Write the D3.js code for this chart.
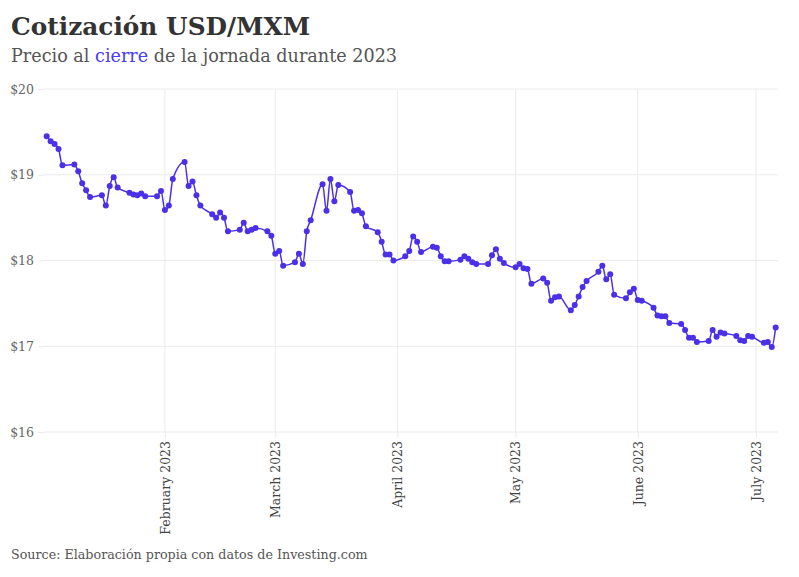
<!DOCTYPE html>
<html>
<head>
<meta charset="utf-8">
<script src="https://cdn.jsdelivr.net/npm/d3@7"></script>
<style>
  html, body { margin: 0; padding: 0; background: #fff; }
  svg { display: block; font-family: "DejaVu Serif", serif; }
</style>
</head>
<body>
<svg id="chart" width="799" height="577"></svg>
<script>
const dates = [
  "2023-01-02","2023-01-03","2023-01-04","2023-01-05","2023-01-06",
  "2023-01-09","2023-01-10","2023-01-11","2023-01-12","2023-01-13",
  "2023-01-16","2023-01-17","2023-01-18","2023-01-19","2023-01-20",
  "2023-01-23","2023-01-24","2023-01-25","2023-01-26","2023-01-27",
  "2023-01-30","2023-01-31","2023-02-01","2023-02-02","2023-02-03",
  "2023-02-06","2023-02-07","2023-02-08","2023-02-09","2023-02-10",
  "2023-02-13","2023-02-14","2023-02-15","2023-02-16","2023-02-17",
  "2023-02-20","2023-02-21","2023-02-22","2023-02-23","2023-02-24",
  "2023-02-27","2023-02-28","2023-03-01","2023-03-02","2023-03-03",
  "2023-03-06","2023-03-07","2023-03-08","2023-03-09","2023-03-10",
  "2023-03-13","2023-03-14","2023-03-15","2023-03-16","2023-03-17",
  "2023-03-20","2023-03-21","2023-03-22","2023-03-23","2023-03-24",
  "2023-03-27","2023-03-28","2023-03-29","2023-03-30","2023-03-31",
  "2023-04-03","2023-04-04","2023-04-05","2023-04-06","2023-04-07",
  "2023-04-10","2023-04-11","2023-04-12","2023-04-13","2023-04-14",
  "2023-04-17","2023-04-18","2023-04-19","2023-04-20","2023-04-21",
  "2023-04-24","2023-04-25","2023-04-26","2023-04-27","2023-04-28",
  "2023-05-01","2023-05-02","2023-05-03","2023-05-04","2023-05-05",
  "2023-05-08","2023-05-09","2023-05-10","2023-05-11","2023-05-12",
  "2023-05-15","2023-05-16","2023-05-17","2023-05-18","2023-05-19",
  "2023-05-22","2023-05-23","2023-05-24","2023-05-25","2023-05-26",
  "2023-05-29","2023-05-30","2023-05-31","2023-06-01","2023-06-02",
  "2023-06-05","2023-06-06","2023-06-07","2023-06-08","2023-06-09",
  "2023-06-12","2023-06-13","2023-06-14","2023-06-15","2023-06-16",
  "2023-06-19","2023-06-20","2023-06-21","2023-06-22","2023-06-23",
  "2023-06-26","2023-06-27","2023-06-28","2023-06-29","2023-06-30",
  "2023-07-03","2023-07-04","2023-07-05","2023-07-06"
];
const closes = [
  19.45,19.39,19.36,19.30,19.11,
  19.12,19.04,18.90,18.82,18.74,
  18.76,18.64,18.87,18.97,18.85,
  18.79,18.77,18.76,18.78,18.75,
  18.75,18.81,18.59,18.64,18.95,
  19.15,18.87,18.92,18.76,18.64,
  18.54,18.50,18.56,18.50,18.34,
  18.36,18.44,18.34,18.36,18.38,
  18.34,18.29,18.08,18.11,17.94,
  17.98,18.08,17.96,18.34,18.47,
  18.89,18.58,18.95,18.69,18.88,
  18.80,18.58,18.59,18.55,18.40,
  18.33,18.22,18.07,18.07,18.00,
  18.05,18.11,18.28,18.22,18.10,
  18.16,18.15,18.05,17.99,17.99,
  18.01,18.05,18.02,17.98,17.96,
  17.96,18.06,18.13,18.02,17.97,
  17.92,17.96,17.91,17.90,17.73,
  17.79,17.74,17.53,17.57,17.58,
  17.42,17.48,17.58,17.69,17.76,
  17.87,17.94,17.78,17.84,17.60,
  17.56,17.63,17.67,17.54,17.53,
  17.45,17.36,17.35,17.35,17.27,
  17.26,17.19,17.10,17.10,17.05,
  17.06,17.19,17.11,17.16,17.15,
  17.12,17.07,17.06,17.12,17.11,
  17.04,17.05,16.99,17.22
];
const yTicks = [16, 17, 18, 19, 20];
const xTickDates = ["2023-02-01","2023-03-01","2023-04-01","2023-05-01","2023-06-01","2023-07-01"];
const xTickLabels = ["February 2023","March 2023","April 2023","May 2023","June 2023","July 2023"];

const parse = d3.timeParse("%Y-%m-%d");
const data = dates.map((d, i) => ({ date: parse(d), value: closes[i] }));

const svg = d3.select("#chart");
const plot = { left: 44, right: 778, top: 89, bottom: 432 };

const x = d3.scaleTime()
  .domain(d3.extent(data, d => d.date))
  .range([plot.left + 2.7, plot.right - 2.3]);
const y = d3.scaleLinear().domain([16, 20]).range([plot.bottom, plot.top]);

const gridColor = "#ebebeb";
const lineColor = "#4a30e6";

// horizontal grid + y axis
const yAxis = d3.axisLeft(y).tickValues(yTicks).tickFormat(d => "$" + d).tickSize(6).tickPadding(4);
const gy = svg.append("g").attr("transform", `translate(${plot.left},0)`).call(yAxis);
gy.select(".domain").remove();
gy.selectAll(".tick line").attr("stroke", gridColor);
gy.selectAll(".tick text").attr("fill", "#666").style("font-size", "12.5px").style("font-family", "DejaVu Serif");
svg.append("g").selectAll("line").data(yTicks).join("line")
  .attr("x1", plot.left).attr("x2", plot.right)
  .attr("y1", d => y(d)).attr("y2", d => y(d))
  .attr("stroke", gridColor).attr("stroke-width", 1);

// vertical grid + x axis
const xAxis = d3.axisBottom(x).tickValues(xTickDates.map(parse))
  .tickFormat((d, i) => xTickLabels[i]).tickSize(6).tickPadding(4);
const gx = svg.append("g").attr("transform", `translate(0,${plot.bottom})`).call(xAxis);
gx.select(".domain").remove();
gx.selectAll(".tick line").attr("stroke", gridColor);
gx.selectAll(".tick text")
  .attr("fill", "#444")
  .style("font-size", "12.5px").style("font-family", "DejaVu Serif")
  .attr("transform", "rotate(-90)")
  .attr("text-anchor", "end")
  .attr("x", -9).attr("y", 0).attr("dy", "0.35em");
svg.append("g").selectAll("line").data(xTickDates.map(parse)).join("line")
  .attr("x1", d => x(d)).attr("x2", d => x(d))
  .attr("y1", plot.top).attr("y2", plot.bottom)
  .attr("stroke", gridColor).attr("stroke-width", 1);

// line
const line = d3.line().x(d => x(d.date)).y(d => y(d.value)).curve(d3.curveMonotoneX);
svg.append("path").datum(data).attr("d", line)
  .attr("fill", "none").attr("stroke", lineColor).attr("stroke-width", 1.5);
svg.append("g").selectAll("circle").data(data).join("circle")
  .attr("cx", d => x(d.date)).attr("cy", d => y(d.value)).attr("r", 3)
  .attr("fill", lineColor);

// titles
svg.append("text").attr("x", 11).attr("y", 35)
  .style("font-family", "DejaVu Serif").style("font-weight", "bold").style("font-size", "24.8px")
  .attr("fill", "#333").text("Cotización USD/MXM");
const sub = svg.append("text").attr("x", 11).attr("y", 62)
  .style("font-family", "DejaVu Serif").style("font-size", "17.6px").attr("fill", "#555");
sub.append("tspan").text("Precio al ");
sub.append("tspan").attr("fill", "#4b3cf5").text("cierre");
sub.append("tspan").text(" de la jornada durante 2023");

svg.append("text").attr("x", 11).attr("y", 559)
  .style("font-family", "DejaVu Serif").style("font-size", "12.7px").attr("fill", "#555")
  .text("Source: Elaboración propia con datos de Investing.com");
</script>
</body>
</html>
